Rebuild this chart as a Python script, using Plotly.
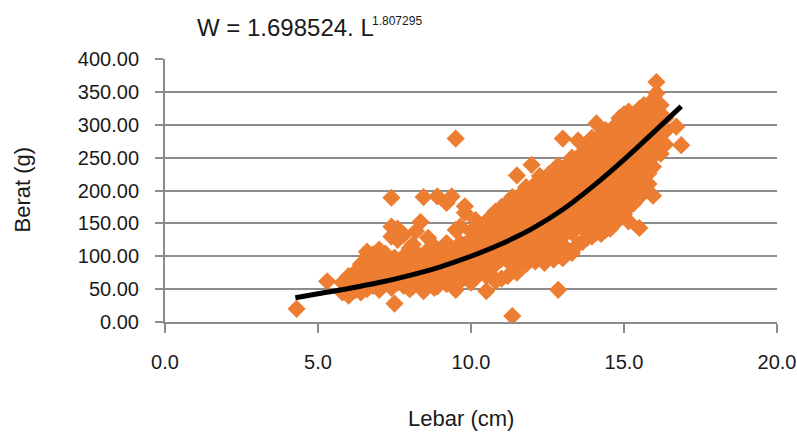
import plotly.graph_objects as go

# ---- data ----
# scatter columns: lebar (cm) -> list of berat (g)
lebar_cols = [4.3, 5.3, 5.8, 6.0, 6.2, 6.4, 6.6, 6.8, 7.0, 7.2, 7.4, 7.5, 7.6, 7.8, 8.0, 8.1, 8.2,
              8.35, 8.45, 8.6, 8.8, 8.9, 9.0, 9.2, 9.37, 9.5, 9.65, 9.8, 10.0, 10.15, 10.3, 10.5,
              10.65, 10.8, 11.0, 11.2, 11.35, 11.5, 11.65, 11.8, 11.98, 12.1, 12.25, 12.4, 12.55,
              12.7, 12.85, 13.0, 13.15, 13.3, 13.5, 13.65, 13.8, 13.95, 14.1, 14.25, 14.4, 14.55,
              14.7, 14.85, 15.0, 15.15, 15.3, 15.5, 15.65, 15.8, 15.95, 16.06, 16.2, 16.35, 16.71, 16.87]
berat_cols = [
    [20], [62], [45, 60], [40, 55, 70], [48, 63, 75], [45, 58, 72, 88],
    [50, 65, 82, 100, 107], [55, 70, 88, 103], [49, 62, 78, 95, 110], [58, 72, 90, 104],
    [52, 66, 84, 130, 145, 189], [28, 75, 98], [60, 70, 88, 125, 142], [55, 68, 82, 100, 133],
    [50, 64, 78, 95, 112], [54, 86, 118], [60, 72, 90, 105, 138], [65, 80, 100, 152],
    [47, 58, 75, 92, 190], [62, 70, 85, 110, 128], [52, 66, 80, 98, 115], [54, 72, 191],
    [60, 76, 90, 106], [58, 70, 85, 100, 120, 181], [64, 80, 96, 112, 191],
    [49, 72, 88, 104, 140, 279], [62, 78, 94, 120, 145], [70, 86, 102, 118, 166, 176],
    [60, 76, 92, 108, 125, 138], [68, 84, 100, 116, 132, 155], [74, 90, 106, 122, 145],
    [47, 70, 86, 102, 118, 134, 152], [72, 94, 110, 126, 142, 160],
    [62, 88, 104, 120, 136, 150, 168], [66, 96, 112, 128, 144, 160, 175],
    [70, 102, 118, 134, 150, 166, 182], [9, 86, 108, 124, 140, 156, 172, 190],
    [75, 100, 116, 132, 148, 164, 180, 223], [95, 111, 127, 143, 159, 175, 195],
    [88, 106, 122, 138, 154, 170, 186, 205], [96, 116, 132, 148, 164, 180, 196, 239],
    [92, 112, 128, 144, 160, 176, 192, 210], [100, 120, 136, 152, 168, 184, 200, 222],
    [90, 116, 132, 148, 164, 180, 196, 214], [104, 126, 142, 158, 174, 190, 206, 225],
    [95, 122, 138, 154, 170, 186, 202, 218], [49, 112, 134, 150, 166, 182, 198, 214, 238],
    [97, 130, 146, 162, 178, 194, 210, 226, 279], [110, 140, 156, 172, 188, 204, 220, 240],
    [105, 136, 152, 168, 184, 200, 216, 232, 250], [118, 146, 162, 178, 194, 210, 226, 242, 276],
    [122, 142, 158, 174, 190, 206, 222, 238, 258], [128, 152, 168, 184, 200, 216, 232, 248, 265],
    [130, 148, 164, 180, 196, 212, 228, 244, 262, 280],
    [136, 156, 172, 188, 204, 220, 236, 252, 270, 302],
    [134, 152, 168, 184, 200, 216, 232, 248, 266, 285],
    [140, 162, 178, 194, 210, 226, 242, 258, 276, 292],
    [142, 158, 174, 190, 206, 222, 238, 254, 272, 290],
    [150, 168, 184, 200, 216, 232, 248, 264, 282, 298],
    [158, 176, 192, 208, 224, 240, 256, 274, 292, 310],
    [164, 182, 198, 214, 230, 246, 262, 280, 298, 316],
    [153, 175, 191, 207, 223, 239, 255, 272, 290, 308, 320],
    [180, 199, 215, 231, 247, 263, 280, 298, 315],
    [143, 190, 206, 222, 238, 254, 270, 288, 306, 324],
    [200, 216, 232, 248, 264, 282, 300, 318, 330],
    [210, 226, 242, 258, 276, 294, 312, 328],
    [192, 236, 252, 270, 288, 306, 322, 338],
    [264, 282, 300, 318, 334, 348, 365],
    [256, 275, 295, 315, 330],
    [270, 290, 310], [297], [269],
]

# trend line as drawn in the picture
lebar_fit = [4.26, 5.0, 6.0, 7.0, 8.0, 9.0, 10.0, 11.0, 12.0, 13.0, 14.0, 15.0, 16.0, 16.87]
berat_fit = [37, 43, 51, 60, 71, 84, 100, 119, 142, 171, 207, 247, 290, 328]

x_ticks = [0, 5, 10, 15, 20]
y_ticks = [0, 50, 100, 150, 200, 250, 300, 350, 400]

title_main = "W = 1.698524. L"
title_sup = "1.807295"
x_title = "Lebar (cm)"
y_title = "Berat (g)"

# ---- build ----
xs, ys = [], []
for lx, col in zip(lebar_cols, berat_cols):
    for b in col:
        xs.append(lx)
        ys.append(b)

FONT = "Liberation Sans, Arial, sans-serif"
GRID = "#8c8c8c"
ORANGE = "#ED7D31"
TXT = "#1a1a1a"

fig = go.Figure()
fig.add_trace(go.Scatter(x=xs, y=ys, mode="markers",
                         marker=dict(symbol="diamond", size=14, color=ORANGE, line=dict(width=0)),
                         showlegend=False, hoverinfo="x+y"))
fig.add_trace(go.Scatter(x=lebar_fit, y=berat_fit, mode="lines",
                         line=dict(color="black", width=5, shape="spline"),
                         showlegend=False))

# the page body margin is removed (see post_script), so the figure fills the window
W, H = 797, 435
L, T, R, B = 164.5, 59, 19.5, 112.5
pw, ph = W - L - R, H - T - B

def px2paper(px, py):
    return (px - L) / pw, (H - B - py) / ph

fig.update_layout(
    width=W, height=H, margin=dict(l=L, r=R, t=T, b=B, autoexpand=False),
    paper_bgcolor="white", plot_bgcolor="white",
    font=dict(family=FONT, size=20, color=TXT),
    xaxis=dict(range=[0, 20], tickvals=x_ticks, tickformat=".1f", showgrid=False,
               showline=True, linecolor=GRID, linewidth=2, ticks="outside", ticklen=9,
               tickcolor=GRID, tickwidth=2, zeroline=False, ticklabelstandoff=12,
               automargin=False),
    yaxis=dict(range=[0, 400], tickvals=y_ticks, tickformat=".2f", showgrid=True,
               gridcolor=GRID, gridwidth=2, showline=True, linecolor=GRID, linewidth=2,
               ticks="outside", ticklen=8, tickcolor=GRID, tickwidth=2, zeroline=False,
               ticklabelstandoff=12, automargin=False),
)

ax, ay = px2paper(195, 27)
sx, sy = px2paper(370, 21)
tx, ty = px2paper(461, 419)
yx, yy = px2paper(22, 190)
fig.add_annotation(x=ax, y=ay, xref="paper", yref="paper", text=title_main, showarrow=False,
                   xanchor="left", yanchor="middle", font=dict(size=24, family=FONT, color=TXT))
fig.add_annotation(x=sx, y=sy, xref="paper", yref="paper", text=title_sup, showarrow=False,
                   xanchor="left", yanchor="middle", font=dict(size=12, family=FONT, color=TXT))
fig.add_annotation(x=tx, y=ty, xref="paper", yref="paper", text=x_title, showarrow=False,
                   xanchor="center", yanchor="middle", font=dict(size=22, family=FONT, color=TXT))
fig.add_annotation(x=yx, y=yy, xref="paper", yref="paper", text=y_title, showarrow=False,
                   textangle=-90, xanchor="center", yanchor="middle",
                   font=dict(size=22, family=FONT, color=TXT))

fig.write_html("out.html", config={"displayModeBar": False},
               post_script="document.body.style.margin='0px';document.body.style.overflow='hidden';")
